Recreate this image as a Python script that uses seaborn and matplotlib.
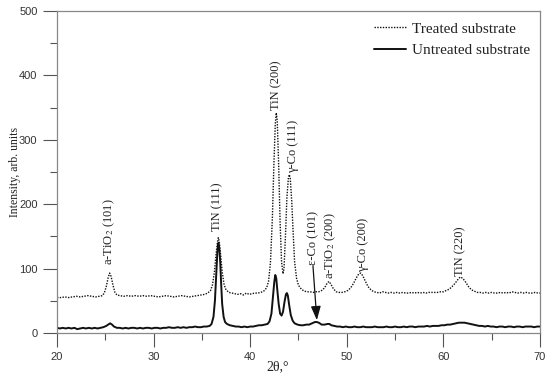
import matplotlib
matplotlib.use("Agg")
import matplotlib.pyplot as plt
import seaborn as sns
import pandas as pd
from matplotlib.ticker import MultipleLocator

# ---------------- data ----------------
untreated_x = [20.0, 20.3, 20.6, 20.9, 21.2, 21.5, 21.8, 22.1, 22.4, 22.7, 23.0, 23.3, 23.6, 23.9, 24.2, 24.5,
               24.8, 25.1, 25.3, 25.5, 25.7, 25.9, 26.2, 26.5, 26.8, 27.1, 27.4, 27.7, 28.0, 28.3, 28.6, 28.9,
               29.2, 29.5, 29.8, 30.1, 30.4, 30.7, 31.0, 31.3, 31.6, 31.9, 32.2, 32.5, 32.8, 33.1, 33.4, 33.7,
               34.0, 34.3, 34.6, 34.9, 35.2, 35.5, 35.8, 36.0, 36.2, 36.35, 36.5, 36.6, 36.7, 36.8, 36.9, 37.0,
               37.1, 37.25, 37.4, 37.6, 37.9, 38.2, 38.5, 38.8, 39.1, 39.4, 39.7, 40.0, 40.3, 40.6, 40.9, 41.2,
               41.5, 41.8, 42.0, 42.2, 42.35, 42.5, 42.6, 42.7, 42.8, 42.95, 43.1, 43.25, 43.4, 43.55, 43.7, 43.8,
               43.9, 44.05, 44.2, 44.4, 44.6, 44.9, 45.2, 45.5, 45.8, 46.1, 46.4, 46.7, 46.9, 47.1, 47.4, 47.7,
               48.0, 48.2, 48.4, 48.7, 49.0, 49.3, 49.6, 49.9, 50.2, 50.5, 50.8, 51.1, 51.4, 51.7, 52.0, 52.3,
               52.6, 52.9, 53.2, 53.5, 53.8, 54.1, 54.4, 54.7, 55.0, 55.3, 55.6, 55.9, 56.2, 56.5, 56.8, 57.1,
               57.4, 57.7, 58.0, 58.3, 58.6, 58.9, 59.2, 59.5, 59.8, 60.1, 60.4, 60.7, 61.0, 61.3, 61.6, 61.9,
               62.2, 62.5, 62.8, 63.1, 63.4, 63.7, 64.0, 64.3, 64.6, 64.9, 65.2, 65.5, 65.8, 66.1, 66.4, 66.7,
               67.0, 67.3, 67.6, 67.9, 68.2, 68.5, 68.8, 69.1, 69.4, 69.7, 70.0]
untreated_y = [8, 7, 8, 7, 8, 7, 8, 6, 7, 8, 7, 8, 7, 8, 7, 8,
               9, 11, 13, 15, 13, 10, 8, 8, 7, 8, 7, 8, 8, 7, 8, 7,
               8, 8, 7, 8, 8, 7, 8, 8, 9, 8, 8, 9, 8, 9, 8, 9,
               9, 10, 9, 9, 10, 10, 11, 14, 25, 50, 95, 125, 140, 132, 110, 75,
               45, 25, 17, 14, 12, 11, 10, 10, 9, 10, 9, 10, 10, 11, 12, 12,
               13, 14, 18, 30, 55, 80, 90, 85, 68, 45, 30, 27, 33, 48, 60, 62,
               58, 42, 28, 19, 15, 13, 12, 12, 13, 13, 15, 17, 17, 16, 13, 13,
               14, 14, 12, 11, 10, 10, 9, 10, 9, 9, 10, 9, 9, 10, 9, 9,
               9, 10, 9, 9, 9, 10, 9, 9, 10, 9, 9, 10, 9, 10, 10, 9,
               10, 10, 10, 11, 10, 11, 11, 11, 12, 12, 13, 13, 14, 15, 16, 16,
               16, 15, 14, 13, 12, 11, 11, 10, 11, 10, 10, 9, 10, 10, 9, 10,
               10, 9, 10, 10, 9, 10, 10, 10, 9, 10, 10]

treated_x = [20.0, 20.4, 20.8, 21.2, 21.6, 22.0, 22.4, 22.8, 23.2, 23.6, 24.0, 24.4, 24.7, 24.9, 25.1, 25.3,
             25.45, 25.6, 25.8, 26.0, 26.2, 26.5, 26.9, 27.3, 27.7, 28.1, 28.5, 28.9, 29.3, 29.7, 30.1, 30.5,
             30.9, 31.3, 31.7, 32.1, 32.5, 32.9, 33.3, 33.7, 34.1, 34.5, 34.9, 35.3, 35.6, 35.9, 36.1, 36.3,
             36.45, 36.6, 36.7, 36.8, 36.95, 37.1, 37.3, 37.5, 37.8, 38.1, 38.4, 38.7, 39.0, 39.3, 39.6, 39.9,
             40.2, 40.5, 40.8, 41.1, 41.4, 41.7, 41.9, 42.1, 42.3, 42.45, 42.6, 42.7, 42.8, 42.95, 43.1, 43.25,
             43.4, 43.5, 43.65, 43.8, 43.95, 44.05, 44.15, 44.3, 44.45, 44.6, 44.8, 45.0, 45.3, 45.6, 45.9, 46.2,
             46.5, 46.8, 47.1, 47.4, 47.7, 47.95, 48.15, 48.35, 48.6, 48.9, 49.2, 49.5, 49.8, 50.1, 50.4, 50.7,
             51.0, 51.25, 51.45, 51.65, 51.9, 52.2, 52.5, 52.8, 53.1, 53.4, 53.7, 54.0, 54.3, 54.6, 54.9, 55.2,
             55.5, 55.8, 56.1, 56.4, 56.7, 57.0, 57.3, 57.6, 57.9, 58.2, 58.5, 58.8, 59.1, 59.4, 59.7, 60.0,
             60.3, 60.6, 60.9, 61.2, 61.5, 61.75, 62.0, 62.3, 62.6, 62.9, 63.2, 63.5, 63.8, 64.1, 64.4, 64.7,
             65.0, 65.3, 65.6, 65.9, 66.2, 66.5, 66.8, 67.1, 67.4, 67.7, 68.0, 68.3, 68.6, 68.9, 69.2, 69.5,
             69.8, 70.0]
treated_y = [55, 55, 56, 55, 56, 57, 56, 57, 58, 57, 56, 57, 58, 62, 72, 86,
             93, 88, 74, 63, 59, 58, 57, 58, 57, 58, 57, 58, 57, 58, 57, 56,
             57, 58, 57, 56, 57, 58, 57, 56, 57, 58, 59, 60, 62, 66, 75, 95,
             120, 140, 148, 142, 120, 95, 75, 67, 63, 62, 61, 60, 61, 59, 62, 60,
             61, 62, 62, 63, 65, 70, 80, 110, 180, 260, 325, 342, 330, 260, 170, 110,
             92, 100, 150, 210, 240, 246, 240, 205, 155, 110, 85, 74, 68, 65, 64, 64,
             63, 64, 64, 66, 70, 77, 80, 76, 69, 64, 63, 63, 64, 66, 70, 77,
             86, 92, 93, 89, 81, 72, 67, 64, 63, 62, 64, 63, 62, 63, 62, 63,
             62, 63, 62, 62, 63, 62, 63, 62, 63, 62, 63, 63, 63, 63, 64, 64,
             66, 68, 72, 77, 83, 87, 85, 79, 72, 67, 65, 63, 63, 62, 63, 62,
             63, 62, 62, 63, 62, 63, 62, 64, 63, 62, 63, 62, 63, 62, 62, 63,
             62, 62]

series_names = ["Treated substrate", "Untreated substrate"]

peak_labels = ["a-TiO$_2$ (101)", "TiN (111)", "TiN (200)", "γ-Co (111)",
               "ε-Co (101)", "a-TiO$_2$ (200)", "γ-Co (200)", "TiN (220)"]
peak_label_x = [25.4, 36.6, 42.75, 44.4, 46.5, 48.3, 51.7, 61.7]
peak_label_y = [105, 158, 346, 248, 106, 84, 95, 89]

x_ticks = [20, 30, 40, 50, 60, 70]
y_ticks = [0, 100, 200, 300, 400, 500]

# ---------------- plotting ----------------
sns.set_theme(style="white")
plt.rcParams["font.family"] = ["Liberation Sans", "DejaVu Sans"]
plt.rcParams["mathtext.fontset"] = "stix"

fig = plt.figure(figsize=(5.5, 3.79), dpi=100)
ax = fig.add_axes([0.1036, 0.1214, 0.8782, 0.8496])

df_t = pd.DataFrame({"x": treated_x, "y": treated_y})
df_u = pd.DataFrame({"x": untreated_x, "y": untreated_y})

sns.lineplot(data=df_t, x="x", y="y", ax=ax, estimator=None, color="#111111",
             linewidth=1.0, linestyle=(0, (1, 1)), label=series_names[0])
sns.lineplot(data=df_u, x="x", y="y", ax=ax, estimator=None, color="#111111",
             linewidth=1.4, linestyle="-", label=series_names[1])

ax.set_xlim(20, 70)
ax.set_ylim(0, 500)
ax.set_xticks(x_ticks)
ax.set_yticks(y_ticks)
ax.xaxis.set_minor_locator(MultipleLocator(5))
ax.yaxis.set_minor_locator(MultipleLocator(50))
ax.tick_params(which="major", direction="out", length=10, width=0.8, color="#555555",
               labelsize=8, labelcolor="#333333", bottom=True, left=True, pad=4)
ax.tick_params(which="minor", direction="out", length=5, width=0.8, color="#555555",
               bottom=True, left=True)
for s in ax.spines.values():
    s.set_color("#888888")
    s.set_linewidth(0.9)

serif = ["Liberation Serif", "DejaVu Serif"]
ax.set_xlabel("2θ,°", family=serif, fontsize=10, color="#222222")
ax.set_ylabel("Intensity, arb. units", family=serif, fontsize=8.5, color="#222222")
ax.xaxis.set_label_coords(0.457, -0.085)
ax.yaxis.set_label_coords(-0.075, 0.5)

for lab, lx, ly in zip(peak_labels, peak_label_x, peak_label_y):
    ax.text(lx, ly, lab, rotation=90, ha="center", va="bottom", family=serif,
            fontsize=9, color="#222222")

# arrow for ε-Co (101)
ax.annotate("", xy=(46.9, 20), xytext=(46.5, 104),
            arrowprops=dict(arrowstyle="-|>,head_width=0.25,head_length=0.7",
                            color="#111111", lw=0.9, shrinkA=0, shrinkB=0))

leg = ax.legend(loc="upper right", bbox_to_anchor=(0.979, 0.966), frameon=False,
                prop={"family": "Liberation Serif", "size": 11}, handlelength=2.1,
                handletextpad=0.4, labelspacing=0.5, borderaxespad=0, borderpad=0)
for t in leg.get_texts():
    t.set_color("#222222")

fig.savefig("out.png", dpi=100)
